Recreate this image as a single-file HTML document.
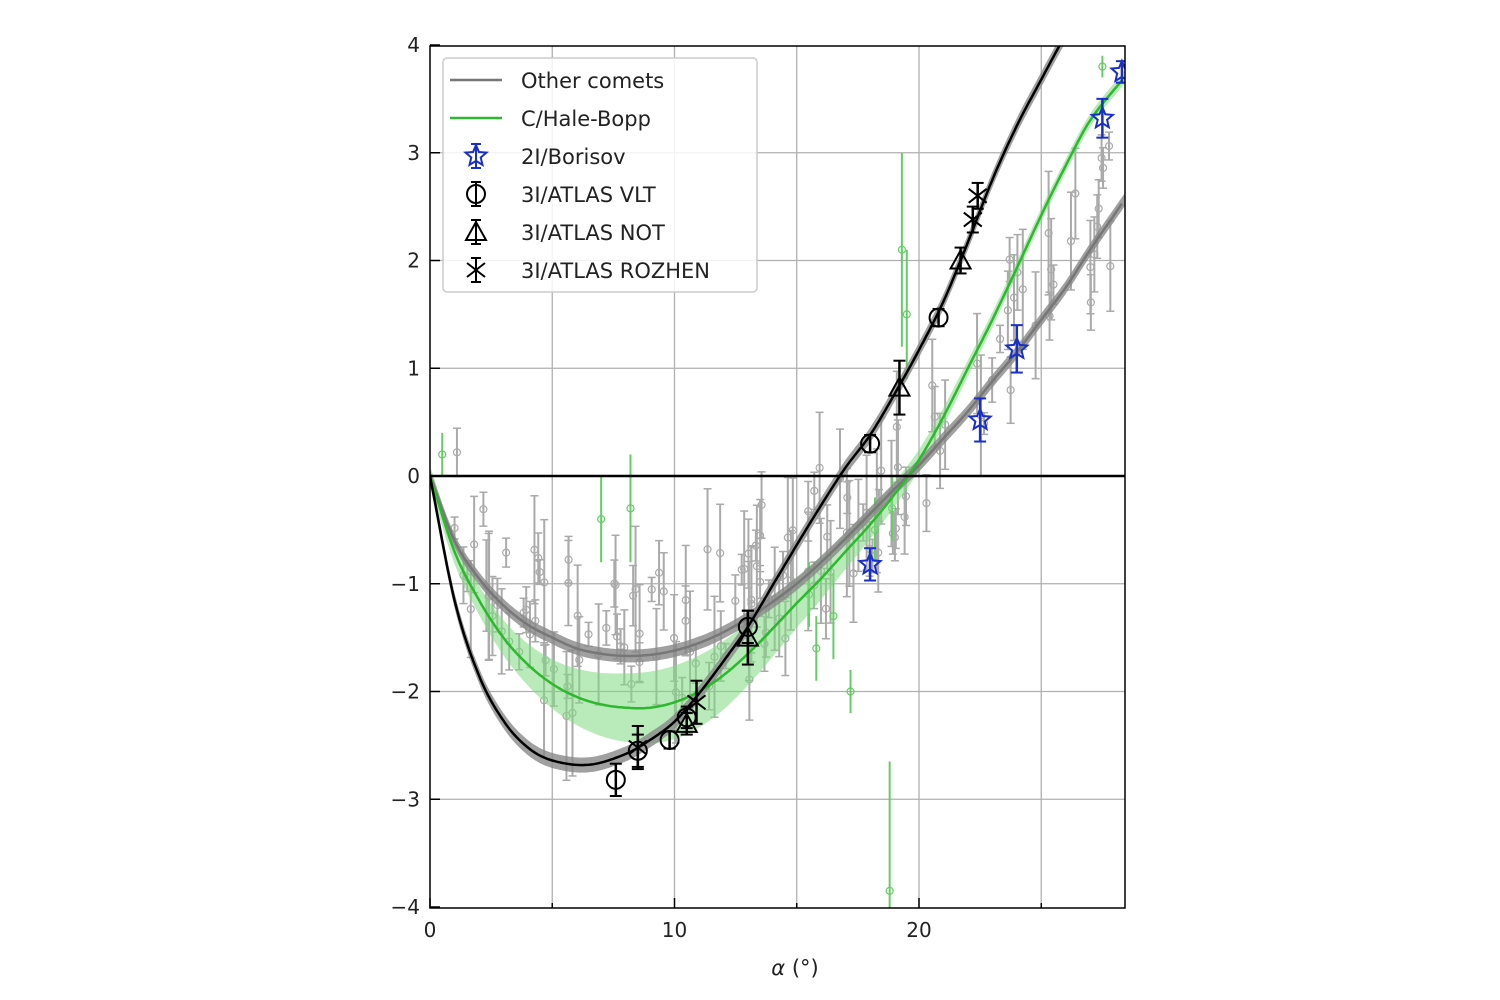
<!DOCTYPE html>
<html><head><meta charset="utf-8"><style>
body{margin:0;background:#fff;}
svg{display:block;font-family:"DejaVu Sans","Liberation Sans",sans-serif;}
</style></head><body>
<svg id="s" width="1500" height="1000" viewBox="0 0 1500 1000" xmlns="http://www.w3.org/2000/svg"></svg>
<script>
var S=document.getElementById('s');
var X0=430,XS=24.45,Y0=476,YS=107.75;
function px(x){return X0+x*XS}function py(y){return Y0-y*YS}
var h='';
h+='<defs><clipPath id="c"><rect x="430" y="46" width="695" height="862"/></clipPath></defs>';
var g='';
for(var x=5;x<=25;x+=5)g+='<line x1="'+px(x)+'" y1="46" x2="'+px(x)+'" y2="908" stroke="#b0b0b0" stroke-width="1.3"/>';
for(var y=-3;y<=3;y++)if(y!=0)g+='<line x1="430" y1="'+py(y)+'" x2="1125" y2="'+py(y)+'" stroke="#b0b0b0" stroke-width="1.3"/>';
h+=g;
function interp(P,x){for(var i=0;i<P.length-1;i++){if(x<=P[i+1][0]){var a=P[i],b=P[i+1];
var p0=P[Math.max(i-1,0)],p3=P[Math.min(i+2,P.length-1)];var t=(x-a[0])/(b[0]-a[0]);
var m1=(b[1]-p0[1])/(b[0]-p0[0])*(b[0]-a[0]),m2=(p3[1]-a[1])/(p3[0]-a[0])*(b[0]-a[0]);
var t2=t*t,t3=t2*t;return (2*t3-3*t2+1)*a[1]+(t3-2*t2+t)*m1+(-2*t3+3*t2)*b[1]+(t3-t2)*m2;}}return P[P.length-1][1];}
var BK=[[0,0],[1,-1.15],[2,-1.85],[3,-2.27],[4,-2.52],[5,-2.64],[6.5,-2.68],[8,-2.58],[9,-2.45],[10,-2.28],[11,-2.02],[12,-1.72],[13,-1.4],[14,-1.02],[15,-0.64],[16,-0.27],[17,0.08],[18,0.38],[19,0.76],[20,1.17],[21,1.62],[22,2.17],[23,2.75],[24,3.25],[25,3.68],[26,4.1],[27,4.5]];
var GR=[[0,0],[1,-0.7],[2,-1.15],[3,-1.5],[4,-1.75],[5,-1.93],[6,-2.05],[7,-2.12],[8,-2.15],[9,-2.15],[10,-2.1],[11,-2.0],[12,-1.85],[13,-1.65],[14,-1.42],[15,-1.18],[16,-0.95],[17,-0.7],[18,-0.45],[19,-0.17],[20,0.15],[21,0.55],[22,1.0],[23,1.45],[24,1.93],[25,2.42],[26,2.88],[27,3.3],[28.4,3.7]];
var GY=[[0,0],[1,-0.6],[2,-0.95],[3,-1.2],[4,-1.38],[5,-1.5],[6,-1.6],[7,-1.65],[8,-1.67],[9,-1.66],[10,-1.62],[11,-1.55],[12,-1.45],[13,-1.32],[14,-1.17],[15,-1.0],[16,-0.8],[17,-0.58],[18,-0.35],[19,-0.12],[20,0.1],[21,0.35],[22,0.6],[23,0.88],[24,1.15],[25,1.45],[26,1.75],[27,2.1],[28.4,2.56]];
function path(P,xm){var d='';for(var x=0;x<=xm;x+=0.1){d+=(d?'L':'M')+px(x).toFixed(1)+' '+py(interp(P,x)).toFixed(1);}return d;}
function band(P,w,xm){var a=[],b=[];for(var x=0;x<=xm+0.01;x+=0.1){var y=interp(P,x),ww=w(x);a.push(px(x).toFixed(1)+','+py(y+ww).toFixed(1));b.unshift(px(x).toFixed(1)+','+py(y-ww).toFixed(1));}return a.concat(b).join(' ');}
var c='<g clip-path="url(#c)">';
var seed=7;function r(){seed=(seed*9301+49297)%233280;return seed/233280;}
var pts='';
for(var i=0;i<150;i++){var x=1+r()*27.4;var y=interp(GY,x)+(r()-0.4)*(1.0+r()*0.8);var e=0.1+r()*0.5;
pts+='<line x1="'+px(x)+'" y1="'+py(y-e)+'" x2="'+px(x)+'" y2="'+py(y+e)+'" stroke="#aaa" stroke-width="2"/><line x1="'+(px(x)-4)+'" y1="'+py(y-e)+'" x2="'+(px(x)+4)+'" y2="'+py(y-e)+'" stroke="#aaa" stroke-width="1.5"/><line x1="'+(px(x)-4)+'" y1="'+py(y+e)+'" x2="'+(px(x)+4)+'" y2="'+py(y+e)+'" stroke="#aaa" stroke-width="1.5"/><circle cx="'+px(x)+'" cy="'+py(y)+'" r="3.5" fill="none" stroke="#aaa" stroke-width="1.2"/>';}
var gp=[[0.5,0.2,0.2],[7,-0.4,0.4],[8.2,-0.3,0.5],[15.5,-1.1,0.3],[15.8,-1.6,0.3],[17.2,-2.0,0.2],[19.3,2.1,0.9],[19.5,1.5,0.6],[18.8,-3.85,1.2],[27.5,3.8,0.1],[16.5,-1.3,0.4],[18.2,-0.5,0.3],[18.9,-0.3,0.3]];
gp.forEach(function(p){var x=p[0],y=p[1],e=p[2];pts+='<line x1="'+px(x)+'" y1="'+py(y-e)+'" x2="'+px(x)+'" y2="'+py(y+e)+'" stroke="#6c6" stroke-width="2"/><circle cx="'+px(x)+'" cy="'+py(y)+'" r="3.5" fill="none" stroke="#6c6" stroke-width="1.2"/>';});
c+=pts;
c+='<polygon points="'+band(GR,function(x){return 0.06+0.28*Math.exp(-Math.pow((x-10)/7,2))},28.4)+'" fill="#7fd97f" fill-opacity="0.55"/>';
c+='<polygon points="'+band(GY,function(x){return 0.06},28.4)+'" fill="#888" fill-opacity="0.8"/>';
c+='<polygon points="'+band(BK,function(x){return 0.07},27)+'" fill="#888" fill-opacity="0.8"/>';
c+='<path d="'+path(GY,28.4)+'" fill="none" stroke="#777" stroke-width="2.5"/>';
c+='<path d="'+path(GR,28.4)+'" fill="none" stroke="#2db82d" stroke-width="2.5"/>';
c+='<path d="'+path(BK,27)+'" fill="none" stroke="#000" stroke-width="2.5"/>';
c+='<line x1="430" y1="476" x2="1125" y2="476" stroke="#000" stroke-width="2.5"/>';
function eb(x,y,e,col){return '<line x1="'+px(x)+'" y1="'+py(y-e)+'" x2="'+px(x)+'" y2="'+py(y+e)+'" stroke="'+col+'" stroke-width="2.5"/><line x1="'+(px(x)-6)+'" y1="'+py(y-e)+'" x2="'+(px(x)+6)+'" y2="'+py(y-e)+'" stroke="'+col+'" stroke-width="2"/><line x1="'+(px(x)-6)+'" y1="'+py(y+e)+'" x2="'+(px(x)+6)+'" y2="'+py(y+e)+'" stroke="'+col+'" stroke-width="2"/>';}
function star(cx,cy,R){var p=[];for(var i=0;i<10;i++){var a=-Math.PI/2+i*Math.PI/5,rr=i%2?R*0.45:R;p.push((cx+rr*Math.cos(a)).toFixed(1)+','+(cy+rr*Math.sin(a)).toFixed(1));}return '<polygon points="'+p.join(' ')+'" fill="none" stroke="#1a2fc8" stroke-width="2"/>';}
[[18,-0.82,0.15],[22.5,0.52,0.2],[24,1.18,0.22],[27.5,3.32,0.18],[28.3,3.75,0.1]].forEach(function(p){c+=eb(p[0],p[1],p[2],'#1a2fc8')+star(px(p[0]),py(p[1]),11);});
[[7.6,-2.82,0.15],[8.5,-2.55,0.15],[9.8,-2.45,0.08],[10.5,-2.24,0.1],[13,-1.4,0.15],[18,0.3,0.08],[20.8,1.47,0.08]].forEach(function(p){c+=eb(p[0],p[1],p[2],'#000')+'<circle cx="'+px(p[0])+'" cy="'+py(p[1])+'" r="9" fill="none" stroke="#000" stroke-width="2"/>';});
[[13,-1.5,0.25],[19.2,0.82,0.25],[21.7,2.0,0.12],[10.5,-2.3,0.1]].forEach(function(p){var X=px(p[0]),Y=py(p[1]);c+=eb(p[0],p[1],p[2],'#000')+'<polygon points="'+X+','+(Y-10)+' '+(X-10)+','+(Y+8)+' '+(X+10)+','+(Y+8)+'" fill="none" stroke="#000" stroke-width="2"/>';});
[[8.5,-2.52,0.2],[10.9,-2.1,0.2],[22.2,2.38,0.12],[22.4,2.6,0.12]].forEach(function(p){var X=px(p[0]),Y=py(p[1]);c+=eb(p[0],p[1],p[2],'#000')+'<line x1="'+(X-9)+'" y1="'+(Y-7)+'" x2="'+(X+9)+'" y2="'+(Y+7)+'" stroke="#000" stroke-width="2"/><line x1="'+(X-9)+'" y1="'+(Y+7)+'" x2="'+(X+9)+'" y2="'+(Y-7)+'" stroke="#000" stroke-width="2"/>';});
c+='</g>';h+=c;
h+='<rect x="430" y="46" width="695" height="862" fill="none" stroke="#000" stroke-width="1.5"/>';
for(var x=0;x<=25;x+=5){h+='<line x1="'+px(x)+'" y1="908" x2="'+px(x)+'" y2="'+(x%10?903:898)+'" stroke="#000" stroke-width="1.5"/>';if(x%10==0)h+='<text x="'+px(x)+'" y="937" font-size="20" text-anchor="middle" fill="#222">'+x+'</text>';}
for(var y=-4;y<=4;y++){h+='<line x1="430" y1="'+py(y)+'" x2="440" y2="'+py(y)+'" stroke="#000" stroke-width="1.5"/><text x="420" y="'+(py(y)+7)+'" font-size="20" text-anchor="end" fill="#222">'+(y<0?'\u2212'+(-y):y)+'</text>';}
h+='<text x="795" y="975" font-size="21" text-anchor="middle" fill="#222"><tspan font-style="italic">α</tspan> (°)</text>';
h+='<rect x="443" y="58" width="314" height="234" rx="4" fill="#fff" fill-opacity="0.85" stroke="#ccc" stroke-width="1.5"/>';
var L=[['Other comets',80],['C/Hale-Bopp',118],['2I/Borisov',156],['3I/ATLAS VLT',194],['3I/ATLAS NOT',232],['3I/ATLAS ROZHEN',270]];
L.forEach(function(l){h+='<text x="521" y="'+(l[1]+8)+'" font-size="21" fill="#222">'+l[0]+'</text>';});
h+='<line x1="450" y1="80" x2="502" y2="80" stroke="#777" stroke-width="2.5"/><line x1="450" y1="118" x2="502" y2="118" stroke="#2db82d" stroke-width="2.5"/>';
function leb(y,col){return '<line x1="476" y1="'+(y-12)+'" x2="476" y2="'+(y+12)+'" stroke="'+col+'" stroke-width="2"/><line x1="471" y1="'+(y-12)+'" x2="481" y2="'+(y-12)+'" stroke="'+col+'" stroke-width="2"/><line x1="471" y1="'+(y+12)+'" x2="481" y2="'+(y+12)+'" stroke="'+col+'" stroke-width="2"/>';}
h+=leb(156,'#1a2fc8')+star(476,156,11);
h+=leb(194,'#000')+'<circle cx="476" cy="194" r="9" fill="none" stroke="#000" stroke-width="2"/>';
h+=leb(232,'#000')+'<polygon points="476,222 466,240 486,240" fill="none" stroke="#000" stroke-width="2"/>';
h+=leb(270,'#000')+'<line x1="467" y1="263" x2="485" y2="277" stroke="#000" stroke-width="2"/><line x1="467" y1="277" x2="485" y2="263" stroke="#000" stroke-width="2"/>';
S.innerHTML=h;
</script>
</body></html>
